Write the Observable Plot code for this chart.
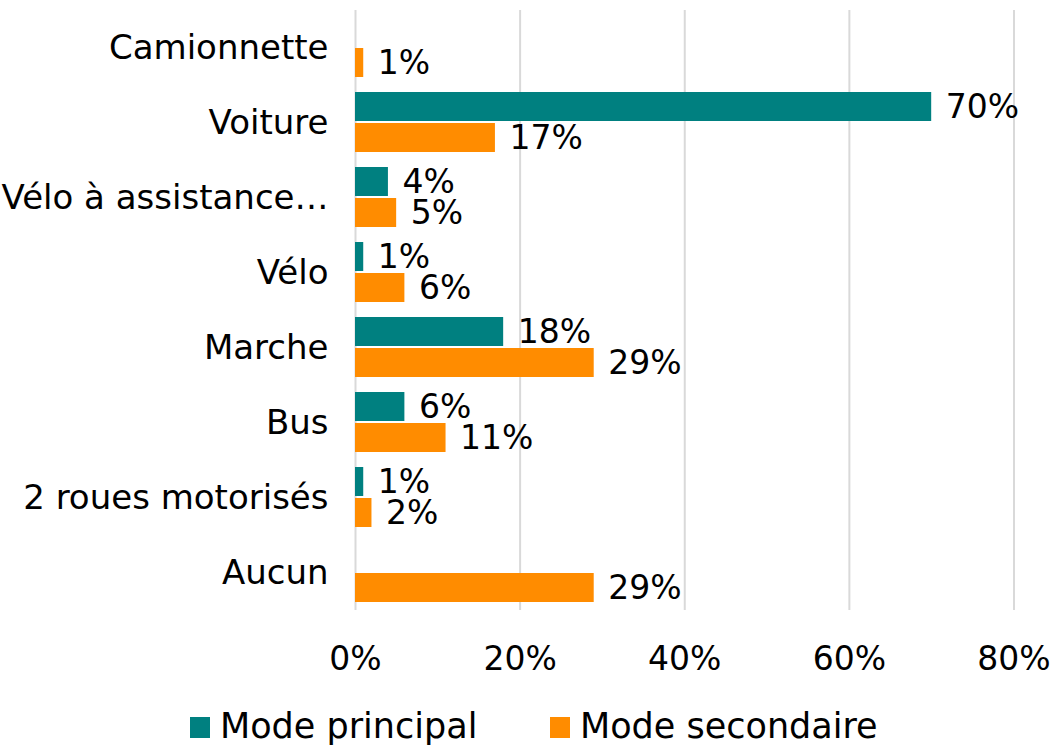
<!DOCTYPE html>
<html>
<head>
<meta charset="utf-8">
<script src="https://cdn.jsdelivr.net/npm/d3@7"></script>
<script src="https://cdn.jsdelivr.net/npm/@observablehq/plot@0.6"></script>
<style>
  body { margin: 0; background: #fff; font-family: "DejaVu Sans", sans-serif; }
  #legend { position: relative; height: 55px; font-size: 35px; color: #000; line-height: 36px; }
  #legend .item { position: absolute; top: 18px; display: flex; align-items: flex-end; gap: 10px; white-space: nowrap; }
  #legend .sw { width: 20px; height: 21px; margin-bottom: 6px; }
</style>
</head>
<body>
<div id="chart"></div>
<div id="legend"></div>
<script>
const categories = ["Camionnette", "Voiture", "Vélo à assistance…", "Vélo", "Marche", "Bus", "2 roues motorisés", "Aucun"];
const series = ["Mode principal", "Mode secondaire"];
const principal = [null, 70, 4, 1, 18, 6, 1, null];
const secondaire = [1, 17, 5, 6, 29, 11, 2, 29];
const colors = ["#008080", "#FF8C00"];
const xTicks = [0, 20, 40, 60, 80];
const legendLeft = [190, 550];

const rows = [];
categories.forEach((c, i) => {
  [principal, secondaire].forEach((arr, j) => {
    if (arr[i] != null) rows.push({category: c, series: series[j], value: arr[i]});
  });
});

const chart = Plot.plot({
  width: 1053,
  height: 690,
  marginLeft: 355,
  marginRight: 39.5,
  marginTop: 9,
  marginBottom: 79,
  style: {fontFamily: "DejaVu Sans, sans-serif", fontSize: "32px", color: "#000", background: "#fff"},
  x: {domain: [0, 80]},
  y: {domain: series, paddingInner: 0.063, paddingOuter: 0.227, axis: null},
  fy: {domain: categories, padding: 0},
  color: {domain: series, range: colors},
  marks: [
    Plot.ruleX(xTicks, {stroke: "#d9d9d9", strokeWidth: 2, strokeOpacity: 1}),
    Plot.barX(rows, {x: "value", y: "series", fy: "category", fill: "series"}),
    Plot.text(rows, {x: "value", y: "series", fy: "category", text: d => d.value + "%", textAnchor: "start", dx: 14, fontSize: 33, fill: "#000"}),
    Plot.axisFy({anchor: "left", tickSize: 0, tickPadding: 27, label: null, fontSize: 34, fill: "#000"}),
    Plot.axisX({ticks: xTicks, tickFormat: d => d + "%", tickSize: 0, tickPadding: 36, label: null, fontSize: 33, fill: "#000"})
  ]
});
document.getElementById("chart").appendChild(chart);

const legend = document.getElementById("legend");
series.forEach((s, i) => {
  const item = document.createElement("div");
  item.className = "item";
  item.style.left = legendLeft[i] + "px";
  const sw = document.createElement("div");
  sw.className = "sw";
  sw.style.background = colors[i];
  const t = document.createElement("span");
  t.textContent = s;
  item.appendChild(sw);
  item.appendChild(t);
  legend.appendChild(item);
});
</script>
</body>
</html>
